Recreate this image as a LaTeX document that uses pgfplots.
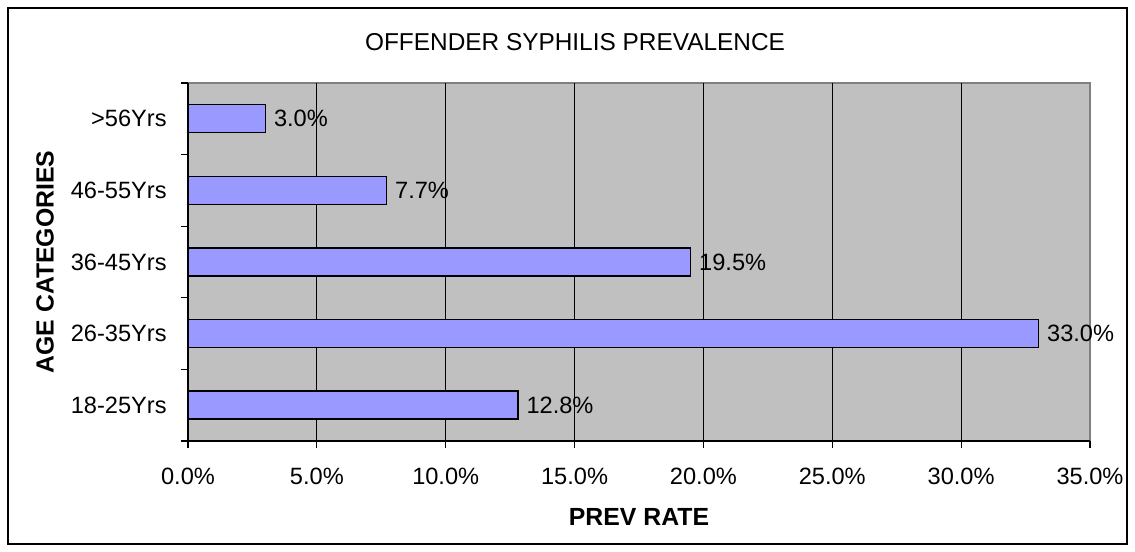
\documentclass[border=0pt]{standalone}
\usepackage{fontspec}
\setmainfont{Liberation Sans}
\usepackage{pgfplots}
\pgfplotsset{compat=1.18}
\definecolor{plotbg}{HTML}{C0C0C0}
\definecolor{barfill}{HTML}{9999FF}
\definecolor{bordergray}{HTML}{808080}

\begin{document}
\begin{tikzpicture}[font=\fontsize{11.8}{13}\selectfont]
  \begin{axis}[
      name=ax,
      scale only axis,
      width=451pt, height=179pt,
      xbar, bar width=14pt,
      xmin=0, xmax=35,
      ymin=-0.5, ymax=4.5,
      axis lines=left,
      axis line style={-, black, line width=0.8pt},
      axis background/.style={fill=plotbg, draw=bordergray, line width=0.8pt},
      tick align=outside,
      major tick length=3.5pt,
      tick style={black, line width=0.6pt},
      /pgf/number format/assume math mode=true,
      xtick={0,5,...,30},
      xticklabels={0.0\%,5.0\%,10.0\%,15.0\%,20.0\%,25.0\%,30.0\%},
      extra x ticks={35},
      extra x tick labels={35.0\%},
      extra x tick style={grid=none},
      xticklabel style={anchor=base, inner sep=0pt, yshift=-18.5pt},
      xmajorgrids,
      major grid style={black, line width=0.5pt},
      ytick={-0.5,0.5,...,4.5},
      yticklabels={},
      extra y ticks={0,1,2,3,4},
      extra y tick labels={18-25Yrs,26-35Yrs,36-45Yrs,46-55Yrs,>56Yrs},
      extra y tick style={major tick length=0pt,
        yticklabel style={anchor=east, inner sep=0pt, xshift=-10.5pt}},
      every axis x label/.style={at={(rel axis cs:0.5,0)}, anchor=center,
        yshift=-38pt, font=\fontsize{12.4}{14}\selectfont\bfseries},
      every axis y label/.style={at={(rel axis cs:0,0.5)}, xshift=-71.5pt,
        anchor=center, rotate=90, font=\fontsize{12.4}{14}\selectfont\bfseries},
      xlabel={PREV RATE},
      ylabel={AGE CATEGORIES},
      nodes near coords={\pgfmathprintnumber[fixed,fixed zerofill,precision=1]{\pgfplotspointmeta}\%},
      every node near coord/.append style={anchor=west, inner sep=0pt, xshift=4pt, black},
      clip=false
    ]
    \addplot[fill=barfill, draw=black, line width=0.7pt] coordinates {
      (12.8,0)
      (33.0,1)
      (19.5,2)
      (7.7,3)
      (3.0,4)
    };
  \end{axis}
  % title and outer frame
  \node[font=\fontsize{12.2}{14}\selectfont] at ([shift={(193.5pt,20.5pt)}]ax.north west) {OFFENDER SYPHILIS PREVALENCE};
  \draw[black, line width=1pt] ([shift={(-90pt,-51.5pt)}]ax.south west)
    rectangle ([shift={(18.5pt,37.5pt)}]ax.north east);
  \path ([shift={(-94pt,-55.5pt)}]ax.south west)
    rectangle ([shift={(22.5pt,41.5pt)}]ax.north east);
\end{tikzpicture}
\end{document}
